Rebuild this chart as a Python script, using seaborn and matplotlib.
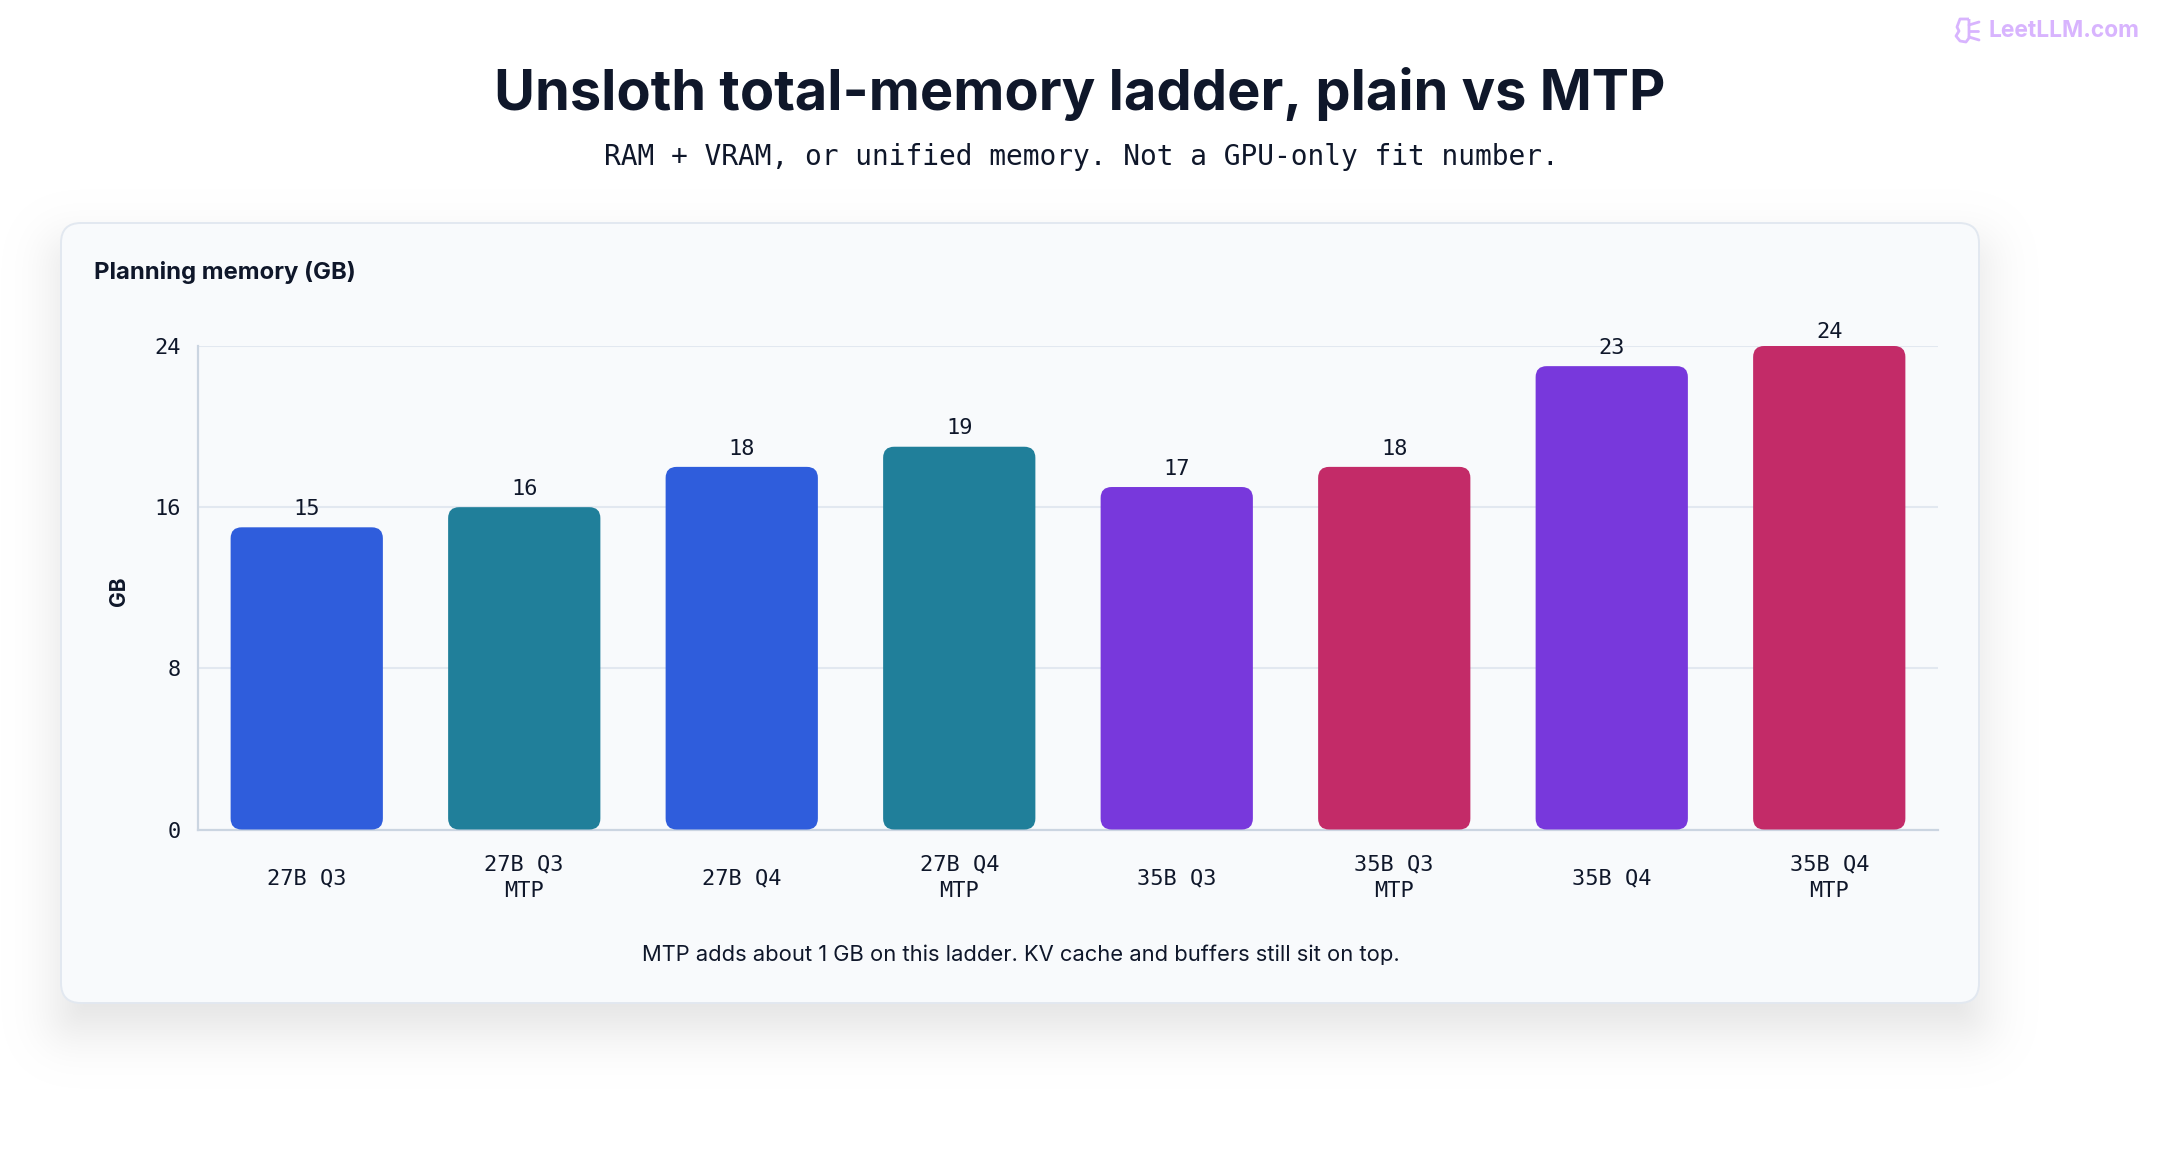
import matplotlib
matplotlib.use("Agg")
import matplotlib.pyplot as plt
from matplotlib.patches import FancyBboxPatch, PathPatch
from matplotlib.colors import to_rgba
from matplotlib.path import Path
from statistics import NormalDist
import pandas as pd
import seaborn as sns

categories = ["27B Q3", "27B Q3\nMTP", "27B Q4", "27B Q4\nMTP", "35B Q3", "35B Q3\nMTP", "35B Q4", "35B Q4\nMTP"]
memory_gb = [15, 16, 18, 19, 17, 18, 23, 24]
bar_colors = ["#2f5ddc", "#207f9a", "#2f5ddc", "#207f9a", "#7838dc", "#c32b68", "#7838dc", "#c32b68"]
y_ticks = [0, 8, 16, 24]
title = "Unsloth total-memory ladder, plain vs MTP"
subtitle = "RAM + VRAM, or unified memory. Not a GPU-only fit number."
panel_title = "Planning memory (GB)"
note = "MTP adds about 1 GB on this ladder. KV cache and buffers still sit on top."
watermark = "LeetLLM.com"

INK = "#0f172a"
MONO = "DejaVu Sans Mono"
SANS = "Inter"
W, H = 2160, 1160

sns.set_theme(style="white")
fig = plt.figure(figsize=(W / 100, H / 100), dpi=100, facecolor="white")

# pixel-space backdrop
bg = fig.add_axes([0, 0, 1, 1], zorder=0)
bg.set_xlim(0, W)
bg.set_ylim(H, 0)
bg.axis("off")

cx0, cy0, cx1, cy1 = 61, 223, 1979, 1003
# soft drop shadow: layers spaced like a gaussian blur, one grey level each
layers = 30
sigma = 28
for i in range(layers):
    d = NormalDist().inv_cdf((layers - i - 0.5) / layers) * sigma
    bg.add_patch(FancyBboxPatch((cx0 - d, cy0 + 26 - d), cx1 - cx0 + 2 * d, cy1 - cy0 + 2 * d,
                                boxstyle=f"round,pad=0,rounding_size={max(24 + d, 2)}",
                                fc=to_rgba("#0f172a", 0.0045), ec="none"))
bg.add_patch(FancyBboxPatch((cx0, cy0), cx1 - cx0, cy1 - cy0, boxstyle="round,pad=0,rounding_size=20",
                            fc="#f8fafc", ec="#e2e8f0", lw=1.4))

bg.text(1080, 94, title, ha="center", va="center", fontsize=40.3, fontweight="bold", color=INK, family=SANS)
bg.text(1081, 157, subtitle, ha="center", va="center", fontsize=20.1, color=INK, family=MONO)
bg.text(94, 273, panel_title, ha="left", va="center", fontsize=17.2, fontweight="bold", color=INK, family=SANS)
bg.text(1020.5, 955, note, ha="center", va="center", fontsize=15.8, color=INK, family=SANS)
bg.text(2140, 31, watermark, ha="right", va="center", fontsize=16.4, fontweight="bold", color="#d8b4fe", family=SANS)
# small brain mark of the watermark
verts = [(1969, 19), (1960, 19), (1957, 27), (1959, 31), (1956, 36), (1960, 41), (1966, 42), (1969, 38), (1969, 19)]
codes = [Path.MOVETO] + [Path.LINETO] * (len(verts) - 1)
bg.add_patch(PathPatch(Path(verts, codes), fc="none", ec="#d8b4fe", lw=2, joinstyle="round"))
for seg in ([(1969, 25), (1979, 22)], [(1969, 31), (1978, 31)], [(1969, 37), (1979, 40)]):
    bg.plot(*zip(*seg), color="#d8b4fe", lw=2, solid_capstyle="round")

# chart axes in pixels
AL, AR, AT, AB = 198, 1938, 346, 829.5
ax = fig.add_axes([AL / W, 1 - AB / H, (AR - AL) / W, (AB - AT) / H], zorder=1)
ax.patch.set_alpha(0)
df = pd.DataFrame({"label": categories, "gb": memory_gb})
sns.barplot(data=df, x="label", y="gb", hue="label", palette=bar_colors, width=0.7,
            saturation=1, legend=False, dodge=False, ax=ax, zorder=3)
ax.set_ylim(0, 24)
ax.set_xlim(-0.5, 7.5)
ax.set_yticks(y_ticks)
ax.set_xlabel("")
ax.set_ylabel("")
ax.grid(axis="y", color="#e2e8f0", lw=1.5)
ax.grid(axis="x", visible=False)
ax.set_axisbelow(True)
for s in ("top", "right"):
    ax.spines[s].set_visible(False)
for s in ("left", "bottom"):
    ax.spines[s].set_color("#cbd5e1")
    ax.spines[s].set_linewidth(1.6)

ax.tick_params(axis="y", length=0, pad=12, labelsize=15.8, labelcolor=INK)
ax.tick_params(axis="x", length=0, pad=35, labelsize=15.8, labelcolor=INK)
for t in ax.get_yticklabels():
    t.set_family(MONO)
for t in ax.get_xticklabels():
    t.set_family(MONO)
    t.set_va("center")
    t.set_linespacing(1.42)

# round the corners of seaborn's bars and label them
px_x = (AR - AL) / 8
px_y = (AB - AT) / 24
radius = 11
for bar, value in zip(list(ax.patches), memory_gb):
    x, w, h, c = bar.get_x(), bar.get_width(), bar.get_height(), bar.get_facecolor()
    bar.remove()
    ax.add_patch(FancyBboxPatch((x, 0), w, h, boxstyle=f"round,pad=0,rounding_size={radius / px_x}",
                                mutation_aspect=px_x / px_y, fc=c, ec="none", zorder=3, clip_on=False))
    lift = 3 if value == max(memory_gb) else 6
    ax.annotate(str(value), (x + w / 2, h), xytext=(0, lift), textcoords="offset points", ha="center", va="bottom",
                fontsize=15.8, color=INK, family=MONO, zorder=4)

bg.text(119, 591, "GB", rotation=90, ha="center", va="center", fontsize=15, fontweight="bold", color=INK, family=SANS)

fig.savefig("out.png", dpi=100, facecolor="white")
